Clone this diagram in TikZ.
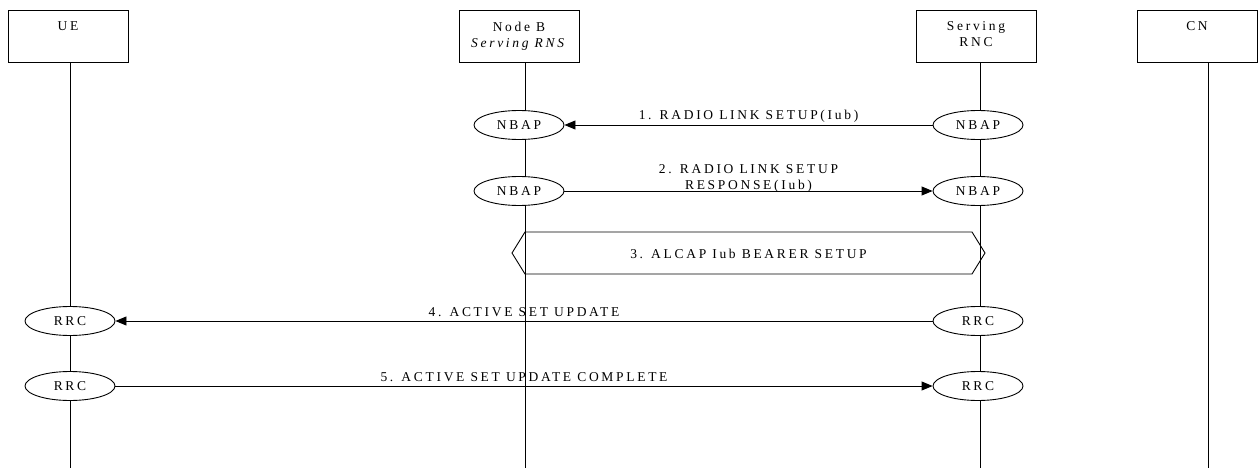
\documentclass[tikz,border=0pt]{standalone}
\usepackage{fontspec}
\setmainfont{Liberation Serif}[LetterSpace=20]
\usetikzlibrary{arrows.meta,shapes.geometric}
\begin{document}
\begin{tikzpicture}[x=1pt,y=-1pt,
  every node/.style={font=\fontsize{13.5}{16}\selectfont},
  line/.style={line width=0.9pt},
  entity/.style={draw, line width=0.9pt, minimum width=120pt, minimum height=52pt, inner sep=0pt},
  boxlabel/.style={anchor=north, inner sep=0pt, align=center},
  proto/.style={ellipse, draw, line width=0.9pt, fill=white, minimum width=90pt, minimum height=29pt, inner sep=0pt},
  msg/.style={line width=0.9pt, -{Triangle[length=11pt,width=9pt]}},
  msglabel/.style={midway, above, inner sep=2pt, align=center}
]
\useasboundingbox (0,0) rectangle (1258,468);

% entity boxes
\node[entity] (ue)  at (68,36)   {};
\node[entity] (nb)  at (519,36)  {};
\node[entity] (rnc) at (976,36)  {};
\node[entity] (cn)  at (1197,36) {};
\node[boxlabel] (ueT)  at ([yshift=-12pt]ue.north)  {UE};
\node[boxlabel] (nbT)  at ([yshift=-12pt]nb.north)  {Node B\\\textit{Serving RNS}};
\node[boxlabel] (rncT) at ([yshift=-12pt]rnc.north) {Serving\\RNC};
\node[boxlabel] (cnT)  at ([yshift=-12pt]cn.north)  {CN};

% lifelines
\coordinate (ueL)  at (70,468);
\coordinate (nbL)  at (525,468);
\coordinate (rncL) at (980,468);
\coordinate (cnL)  at (1208,468);
\draw[line] (ue.south -| ueL) -- (ueL);
\draw[line] (nb.south -| nbL) -- (nbL);
\draw[line] (rnc.south -| rncL) -- (rncL);
\draw[line] (cn.south -| cnL) -- (cnL);

% protocol ellipses
\node[proto] (nb1)  at (519,125) {NBAP};
\node[proto] (rnc1) at (978,125) {NBAP};
\node[proto] (nb2)  at (519,191) {NBAP};
\node[proto] (rnc2) at (978,191) {NBAP};
\node[proto] (ue4)  at (70,321)  {RRC};
\node[proto] (rnc4) at (978,321) {RRC};
\node[proto] (ue5)  at (70,386)  {RRC};
\node[proto] (rnc5) at (978,386) {RRC};

% messages
\draw[msg] (rnc1.west) -- (nb1.east) node[msglabel] {1. RADIO LINK SETUP(Iub)};
\draw[msg] (nb2.east) -- (rnc2.west) node[msglabel, inner sep=0pt, yshift=-2pt] {2. RADIO LINK SETUP\\RESPONSE(Iub)};
\draw[msg] (rnc4.west) -- (ue4.east) node[msglabel, yshift=2pt] {4. ACTIVE SET UPDATE};
\draw[msg] (ue5.east) -- (rnc5.west) node[msglabel, yshift=2pt] {5. ACTIVE SET UPDATE COMPLETE};

% ALCAP procedure hexagon
\node[inner sep=0pt] (alcap) at (748.5,254) {3. ALCAP Iub BEARER SETUP};
\draw[line, line join=miter] (525,232) -- (972,232) -- (985,253) -- (972,274) -- (525,274) -- (512,253) -- cycle;
\end{tikzpicture}
\end{document}
